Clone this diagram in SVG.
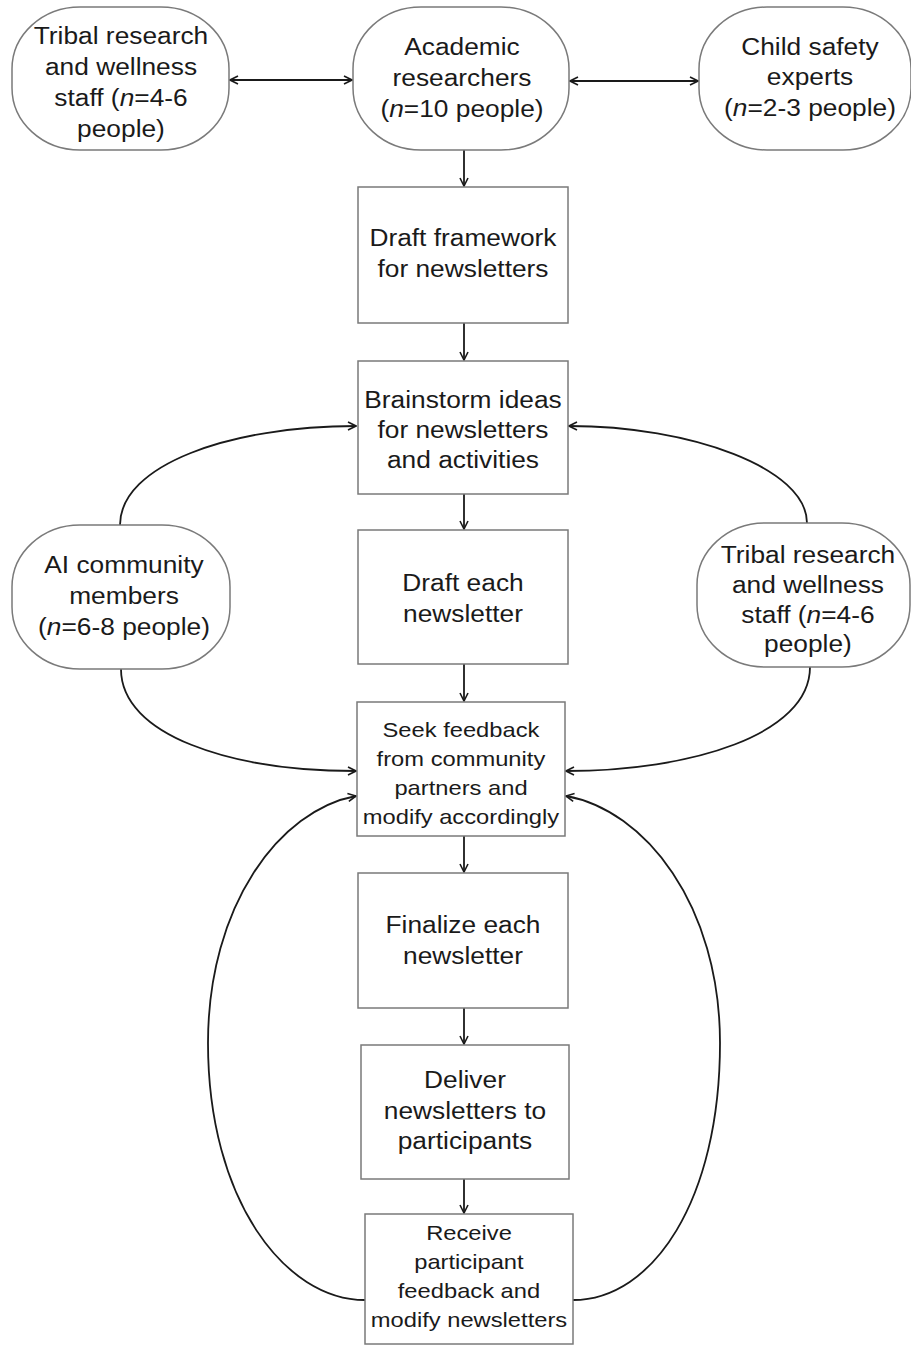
<svg xmlns="http://www.w3.org/2000/svg" width="911" height="1349" viewBox="0 0 911 1349">
<style>
.bg { fill: #ffffff; }
.box { fill: #ffffff; stroke: #7a7a7a; stroke-width: 1.5; }
.pill { fill: #ffffff; stroke: #7a7a7a; stroke-width: 1.5; }
.t { font-family: "Liberation Sans", Arial, sans-serif; font-size: 23.5px; fill: #1a1a1a; text-anchor: middle; transform-box: fill-box; transform-origin: center; transform: scaleX(1.12); }
.s { font-size: 21px; transform: scaleX(1.13); }
.i { font-style: italic; }
.c { fill: none; stroke: #1a1a1a; stroke-width: 1.8; }
</style>
<defs>
<marker id="ah" viewBox="0 0 10 10" refX="9" refY="5" markerWidth="10" markerHeight="10" markerUnits="userSpaceOnUse" orient="auto-start-reverse">
<path d="M1,1 L9,5 L1,9" fill="none" stroke="#1a1a1a" stroke-width="1.6"/>
</marker>
</defs>
<rect class="bg" x="0" y="0" width="911" height="1349"/>

<g id="connectors">
<line class="c" x1="230" y1="80" x2="352" y2="80" marker-start="url(#ah)" marker-end="url(#ah)"/>
<line class="c" x1="570" y1="81" x2="698" y2="81" marker-start="url(#ah)" marker-end="url(#ah)"/>
<line class="c" x1="464" y1="150" x2="464" y2="186" marker-end="url(#ah)"/>
<line class="c" x1="464" y1="323" x2="464" y2="360" marker-end="url(#ah)"/>
<line class="c" x1="464" y1="494" x2="464" y2="529" marker-end="url(#ah)"/>
<line class="c" x1="464" y1="664" x2="464" y2="701" marker-end="url(#ah)"/>
<line class="c" x1="464" y1="836" x2="464" y2="872" marker-end="url(#ah)"/>
<line class="c" x1="464" y1="1008" x2="464" y2="1044" marker-end="url(#ah)"/>
<line class="c" x1="464" y1="1179" x2="464" y2="1213" marker-end="url(#ah)"/>
<path class="c" d="M120,525 C120,465 230,426 356,426" marker-end="url(#ah)"/>
<path class="c" d="M121,669 C121,735 230,771 356,771" marker-end="url(#ah)"/>
<path class="c" d="M807,523 C807,468 690,426 569,426" marker-end="url(#ah)"/>
<path class="c" d="M810,667 C810,735 690,771 566,771" marker-end="url(#ah)"/>
<path class="c" d="M365,1300 C285,1300 208,1200 208,1043 C208,905 280,810 356,796" marker-end="url(#ah)"/>
<path class="c" d="M573,1300 C653,1300 720,1200 720,1043 C720,905 645,810 566,796" marker-end="url(#ah)"/>
</g>

<g id="tribal-top">
<rect class="pill" x="12" y="7" width="217" height="143" rx="68" ry="62"/>
<text class="t" x="121" y="44">Tribal research</text>
<text class="t" x="121" y="75">and wellness</text>
<text class="t" x="121" y="106">staff (<tspan class="i">n</tspan>=4-6</text>
<text class="t" x="121" y="137">people)</text>
</g>

<g id="academic">
<rect class="pill" x="353" y="7" width="216" height="143" rx="68" ry="62"/>
<text class="t" x="462" y="55">Academic</text>
<text class="t" x="462" y="86">researchers</text>
<text class="t" x="462" y="117">(<tspan class="i">n</tspan>=10 people)</text>
</g>

<g id="child-safety">
<rect class="pill" x="699" y="7" width="212" height="143" rx="68" ry="62"/>
<text class="t" x="810" y="55">Child safety</text>
<text class="t" x="810" y="85">experts</text>
<text class="t" x="810" y="116">(<tspan class="i">n</tspan>=2-3 people)</text>
</g>

<g id="draft-framework">
<rect class="box" x="358" y="187" width="210" height="136"/>
<text class="t" x="463" y="246">Draft framework</text>
<text class="t" x="463" y="277">for newsletters</text>
</g>

<g id="brainstorm">
<rect class="box" x="358" y="361" width="210" height="133"/>
<text class="t" x="463" y="408">Brainstorm ideas</text>
<text class="t" x="463" y="438">for newsletters</text>
<text class="t" x="463" y="468">and activities</text>
</g>

<g id="ai-community">
<rect class="pill" x="12" y="525" width="218" height="144" rx="68" ry="62"/>
<text class="t" x="124" y="573">AI community</text>
<text class="t" x="124" y="604">members</text>
<text class="t" x="124" y="635">(<tspan class="i">n</tspan>=6-8 people)</text>
</g>

<g id="tribal-side">
<rect class="pill" x="697" y="523" width="213" height="144" rx="68" ry="62"/>
<text class="t" x="808" y="563">Tribal research</text>
<text class="t" x="808" y="593">and wellness</text>
<text class="t" x="808" y="623">staff (<tspan class="i">n</tspan>=4-6</text>
<text class="t" x="808" y="652">people)</text>
</g>

<g id="draft-each">
<rect class="box" x="358" y="530" width="210" height="134"/>
<text class="t" x="463" y="591">Draft each</text>
<text class="t" x="463" y="622">newsletter</text>
</g>

<g id="seek-feedback">
<rect class="box" x="357" y="702" width="208" height="134"/>
<text class="t s" x="461" y="737">Seek feedback</text>
<text class="t s" x="461" y="766">from community</text>
<text class="t s" x="461" y="795">partners and</text>
<text class="t s" x="461" y="824">modify accordingly</text>
</g>

<g id="finalize">
<rect class="box" x="358" y="873" width="210" height="135"/>
<text class="t" x="463" y="933">Finalize each</text>
<text class="t" x="463" y="964">newsletter</text>
</g>

<g id="deliver">
<rect class="box" x="361" y="1045" width="208" height="134"/>
<text class="t" x="465" y="1088">Deliver</text>
<text class="t" x="465" y="1119">newsletters to</text>
<text class="t" x="465" y="1149">participants</text>
</g>

<g id="receive">
<rect class="box" x="365" y="1214" width="208" height="130"/>
<text class="t s" x="469" y="1240">Receive</text>
<text class="t s" x="469" y="1269">participant</text>
<text class="t s" x="469" y="1298">feedback and</text>
<text class="t s" x="469" y="1327">modify newsletters</text>
</g>
</svg>
